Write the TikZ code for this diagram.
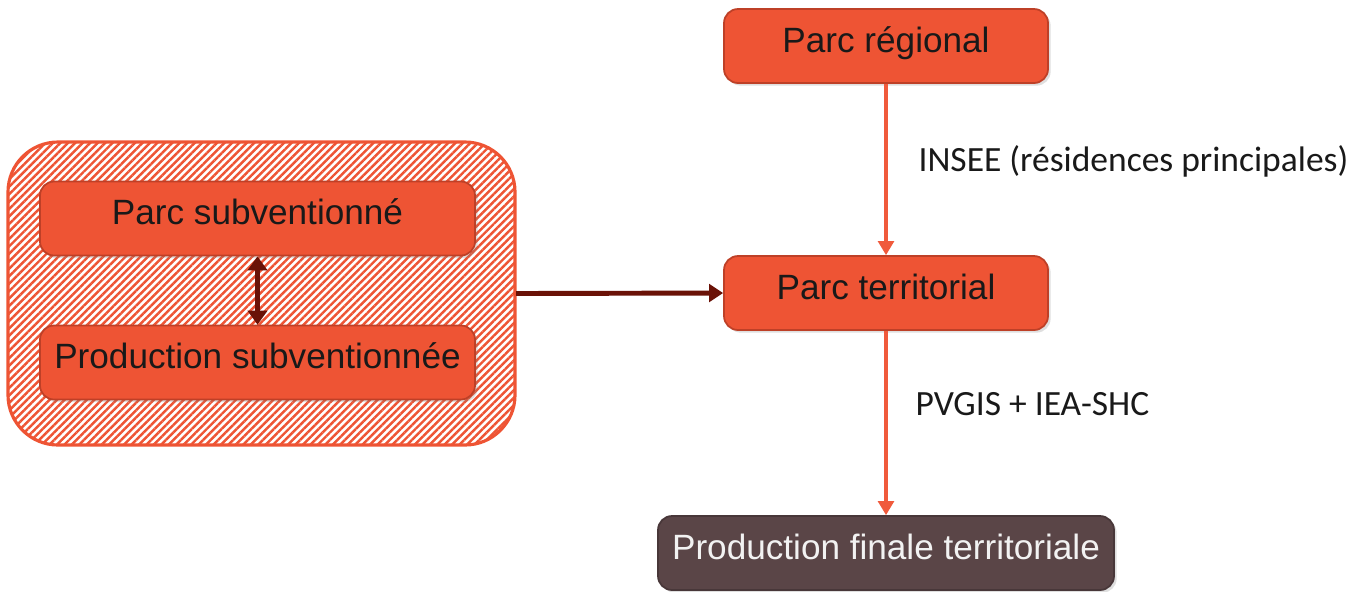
\documentclass[tikz,border=0pt]{standalone}
\usepackage{fontspec}
\setmainfont{Liberation Sans}
\newfontfamily\labelfont{Carlito}
\usetikzlibrary{arrows.meta,patterns.meta,shadows}
\definecolor{boxorange}{HTML}{EE5434}
\definecolor{boxedge}{HTML}{BE4027}
\definecolor{boxdark}{HTML}{5A4547}
\definecolor{arroworange}{HTML}{F05A3C}
\definecolor{arrowdark}{HTML}{6A1207}

\begin{document}
\begin{tikzpicture}[
    box/.style={draw=boxedge, line width=1pt, fill=boxorange, rounded corners=8pt,
      minimum height=1.48cm, inner ysep=0pt, text height=0.86cm, text depth=0.62cm,
      font=\fontsize{20}{22}\selectfont, text=black!90,
      drop shadow={opacity=0.25, shadow xshift=1.5pt, shadow yshift=-1.5pt}},
    flow/.style={-{Triangle[width=9pt,length=8pt]}, line width=1.8pt, arroworange},
    link/.style={line width=2.8pt, arrowdark},
    srclabel/.style={anchor=west, inner sep=0pt, text=black!90,
      font=\labelfont\fontsize{20.2}{22}\selectfont}
  ]
  \useasboundingbox (0,0) rectangle (27.2,-11.82);

  % Hatched group
  \node[draw=boxorange, line width=1.8pt, rounded corners=1cm,
    fill=white, pattern={Lines[angle=45,distance=3pt,line width=1.4pt]}, pattern color=boxorange,
    minimum width=10.14cm, minimum height=6.06cm] (group) at (5.23,-5.87) {};
  \node[box, minimum width=8.7cm] (parcsub) at (5.15,-4.37) {Parc subventionné};
  \node[box, minimum width=8.7cm] (prodsub) at (5.15,-7.25) {Production subventionnée};

  % Main column
  \node[box, minimum width=6.48cm] (regional) at (17.72,-0.92) {Parc régional};
  \node[box, minimum width=6.48cm] (territorial) at (17.72,-5.86) {Parc territorial};
  \node[box, minimum width=9.12cm, fill=boxdark, draw=boxdark!80!black, text=white!95!black]
    (finale) at (17.72,-11.06) {Production finale territoriale};

  % Connectors
  \draw[link, {Triangle[width=11pt,length=8pt]}-{Triangle[width=11pt,length=8pt]}, line width=2.6pt]
    (parcsub.south) -- (prodsub.north);
  \draw[link, -{Triangle[width=10pt,length=8pt]}] (group.east) -- (territorial.west);
  \draw[flow] (regional.south) -- (territorial.north)
    node[srclabel, pos=0.45, xshift=0.62cm] {INSEE (résidences principales)};
  \draw[flow] (territorial.south) -- (finale.north)
    node[srclabel, pos=0.4, xshift=0.56cm] {PVGIS + IEA-SHC};
\end{tikzpicture}
\end{document}
